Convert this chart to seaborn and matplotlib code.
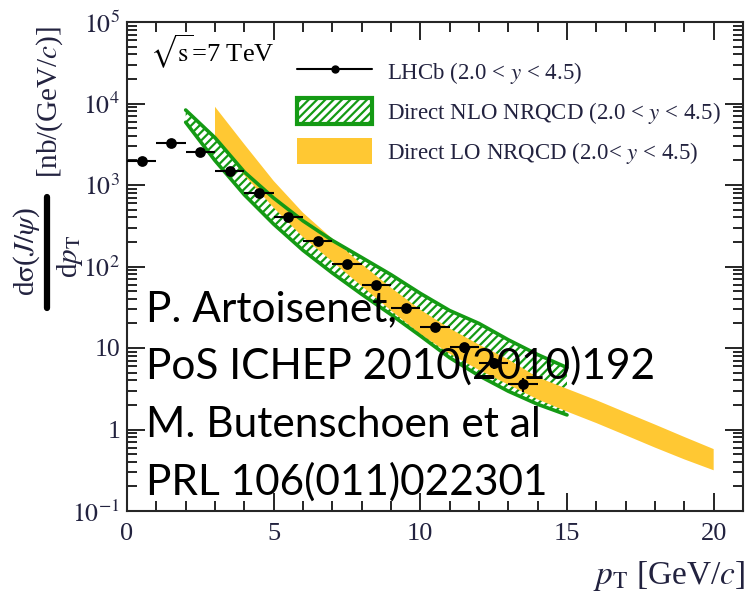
import numpy as np
import pandas as pd
import matplotlib
matplotlib.use("Agg")
import matplotlib.pyplot as plt
import seaborn as sns
from matplotlib.patches import Patch
from matplotlib.lines import Line2D
from matplotlib.ticker import MultipleLocator, LogLocator, NullFormatter, FixedLocator, FixedFormatter

# ---------------- data ----------------
# LHCb J/psi points
pt_centers = [0.5, 1.5, 2.5, 3.5, 4.5, 5.5, 6.5, 7.5, 8.5, 9.5, 10.5, 11.5, 12.5, 13.5]
pt_halfwidth = [0.5] * 14
dsigma = [1970, 3270, 2540, 1500, 790, 408, 206, 107, 60, 31, 18.3, 10.2, 6.5, 3.6]
dsigma_err = [250, 350, 250, 150, 75, 40, 20, 10, 6, 3.5, 2.2, 1.4, 1.0, 0.7]

# Direct NLO NRQCD band
nlo_pt = [2, 3, 4, 5, 6, 7, 8, 9, 10, 11, 12, 13, 14, 15]
nlo_upper = [8318, 3802, 1445, 692, 363, 209, 129, 79.4, 46.8, 28.8, 20.0, 12.6, 8.3, 5.75]
nlo_lower = [5888, 1995, 759, 331, 158, 83.2, 45.7, 25.7, 14.1, 7.6, 4.57, 2.95, 2.04, 1.51]

# Direct LO NRQCD band
lo_pt = [3, 4, 5, 6, 7, 8, 9, 10, 11, 12, 13, 14, 15, 16, 17, 18, 19, 20]
lo_upper = [9120, 3162, 1122, 457, 219, 107, 55, 29.5, 17.4, 11.0, 7.24, 4.37, 3.16, 2.29, 1.62, 1.15, 0.81, 0.575]
lo_lower = [3802, 1318, 525, 229, 115, 57.5, 28.8, 14.8, 8.5, 5.37, 3.55, 2.34, 1.66, 1.20, 0.85, 0.60, 0.43, 0.316]

x_ticks = [0, 5, 10, 15, 20]
y_ticks = [0.1, 1, 10, 100, 1000, 10000, 100000]
y_tick_labels = [r"$10^{-1}$", "1", "10", r"$10^{2}$", r"$10^{3}$", r"$10^{4}$", r"$10^{5}$"]

legend_labels = [r"LHCb (2.0 < $y$ < 4.5)",
                 r"Direct NLO NRQCD (2.0 < $y$ < 4.5)",
                 r"Direct LO NRQCD (2.0< $y$ < 4.5)"]
note_lines = ["P. Artoisenet,", "PoS ICHEP 2010(2010)192",
              "M. Butenschoen et al", "PRL 106(011)022301"]

# ---------------- style ----------------
sns.set_style("ticks")
plt.rcParams["font.family"] = ["Liberation Serif", "DejaVu Serif"]
plt.rcParams["mathtext.fontset"] = "stix"
plt.rcParams["hatch.linewidth"] = 1.6

GREEN = "#149a14"
YELLOW = "#ffc833"
TICKC = "#22223f"

W, H = 747, 603
def fx(x):
    return x / W
def fy(y):
    return 1 - y / H

fig = plt.figure(figsize=(W / 100, H / 100), dpi=100)
ax = fig.add_axes([fx(127), fy(511), (743 - 127) / W, (511 - 22) / H])
ax.set_yscale("log")

pts = pd.DataFrame({"pt": pt_centers, "val": dsigma})

# NLO hatched band
ax.fill_between(nlo_pt, nlo_lower, nlo_upper, facecolor="none", edgecolor=GREEN,
                hatch="////", linewidth=0, zorder=1.5)
# LO band
ax.fill_between(lo_pt, lo_lower, lo_upper, facecolor=YELLOW, edgecolor="none",
                linewidth=0, zorder=2)
# NLO outline
sns.lineplot(x=nlo_pt, y=nlo_upper, color=GREEN, lw=2.6, ax=ax, zorder=2.5)
sns.lineplot(x=nlo_pt, y=nlo_lower, color=GREEN, lw=2.6, ax=ax, zorder=2.5)

# data
ax.errorbar(pt_centers, dsigma, xerr=pt_halfwidth, yerr=dsigma_err, fmt="none",
            ecolor="black", elinewidth=1.5, capsize=0, zorder=3)
sns.scatterplot(data=pts, x="pt", y="val", color="black", s=60, marker="o",
                edgecolor="black", linewidth=0, ax=ax, zorder=4)

ax.set_xlim(0, 21)
ax.set_ylim(0.1, 1e5)

ax.xaxis.set_major_locator(FixedLocator(x_ticks))
ax.xaxis.set_minor_locator(MultipleLocator(1))
ax.yaxis.set_major_locator(FixedLocator(y_ticks))
ax.yaxis.set_major_formatter(FixedFormatter(y_tick_labels))
ax.yaxis.set_minor_locator(LogLocator(base=10, subs=np.arange(2, 10)))
ax.yaxis.set_minor_formatter(NullFormatter())

ax.tick_params(which="both", direction="in", top=True, right=True, width=1.2, color="black")
ax.tick_params(which="major", length=13)
ax.tick_params(which="minor", length=7)
ax.tick_params(axis="x", which="major", labelsize=19, pad=9, labelcolor=TICKC)
ax.tick_params(axis="y", which="major", labelsize=18.5, pad=5, labelcolor=TICKC)
for s in ax.spines.values():
    s.set_linewidth(1.5)
    s.set_visible(True)

ax.set_xlabel(r"$p_{\mathrm{T}}$ [GeV/$c$]", loc="right", fontsize=24, color=TICKC)
ax.xaxis.set_label_coords(1.003, -0.099)
ax.set_ylabel("")

# y label built as a fraction
fig.text(fx(27), fy(252), r"d$\mathrm{\sigma}$($J/\psi$)", rotation=90, ha="center",
         va="center", fontsize=21, color=TICKC)
fig.text(fx(70), fy(256), r"d$p_{\mathrm{T}}$", rotation=90, ha="center",
         va="center", fontsize=21, color=TICKC)
fig.add_artist(Line2D([fx(47), fx(47)], [fy(197), fy(308)], lw=4.5, color="black",
                      transform=fig.transFigure))
fig.text(fx(50), fy(102), r"[nb/(GeV/$c$)]", rotation=90, ha="center", va="center",
         fontsize=21, color=TICKC)

# energy label
fig.text(fx(150), fy(62), r"$\sqrt{\mathrm{s}}$=7 TeV", fontsize=19, va="baseline", ha="left",
         color="black")

# legend
handles = [
    Line2D([0], [0], color="black", lw=1.5, marker="o", markersize=5),
    Patch(facecolor="white", edgecolor=GREEN, hatch="////", linewidth=3),
    Patch(facecolor=YELLOW, edgecolor="none", linewidth=0),
]
fs_leg = 16.5
fs_px = fs_leg * 100 / 72
leg = ax.legend(handles, legend_labels, loc="upper left",
                bbox_to_anchor=(fx(297), fy(58.5)), bbox_transform=fig.transFigure,
                frameon=False, fontsize=fs_leg, borderpad=0, borderaxespad=0,
                handlelength=75 / fs_px, handleheight=31 / fs_px,
                handletextpad=15 / fs_px, labelspacing=0.54)
for t in leg.get_texts():
    t.set_color(TICKC)

# reference note
baselines = [321, 379, 437, 495]
for line, yb in zip(note_lines, baselines):
    fig.text(fx(146), fy(yb), line, fontsize=30.5, family=["Lato", "DejaVu Sans"],
             color="black", va="baseline", ha="left", zorder=10)

fig.savefig("out.png", dpi=100)
